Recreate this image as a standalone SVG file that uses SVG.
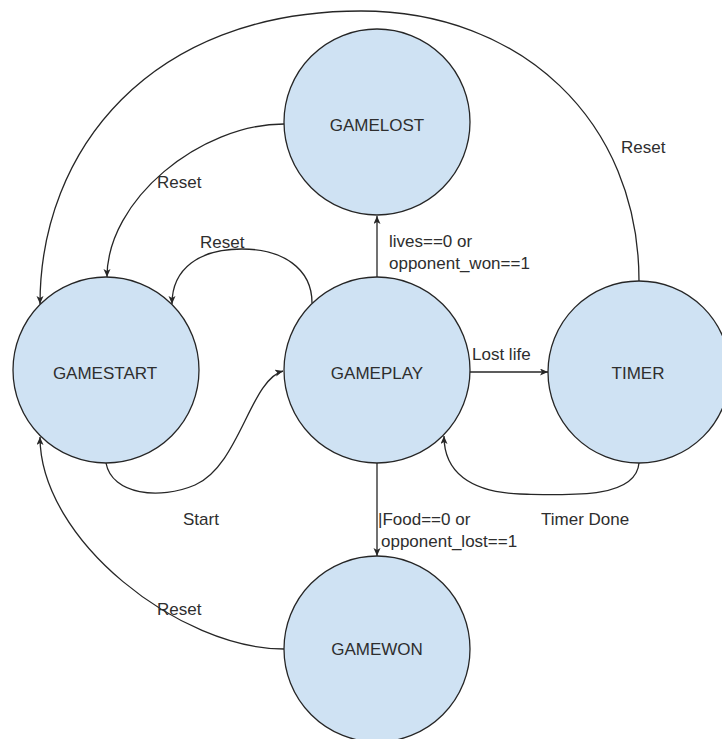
<svg xmlns="http://www.w3.org/2000/svg" width="722" height="739" viewBox="0 0 722 739">
<style>
.node{fill:#cfe2f3;stroke:#262626;stroke-width:1.3}
.nl{font-family:"Liberation Sans",Arial,sans-serif;font-size:17px;fill:#2e2e2e;text-anchor:middle}
.el{font-family:"Liberation Sans",Arial,sans-serif;font-size:17px;fill:#2e2e2e}
.edge{fill:none;stroke:#262626;stroke-width:1.3;marker-end:url(#arr)}
</style>
<defs>
<marker id="arr" markerUnits="userSpaceOnUse" markerWidth="10" markerHeight="8" refX="8" refY="3.5" orient="auto">
<path d="M0,0 L8,3.5 L0,7 L2,3.5 z" fill="#262626"/>
</marker>
</defs>
<rect width="722" height="739" fill="#ffffff"/>
<g id="connectors">
<path class="edge" d="M639,281 C639,120 520,11 361,11 C150,11 40,150 40,304"/>
<path class="edge" d="M284,124 C200,124 107,200 107,277"/>
<path class="edge" d="M312,303 C312,268 282,249 242,249 C200,249 172,268 172,304"/>
<path class="edge" d="M106,463 C112,495 160,500 195,485 C240,465 250,380 283,371"/>
<path class="edge" d="M377,277 L377,216"/>
<path class="edge" d="M470,372 L548,372"/>
<path class="edge" d="M639,463 C636,500 565,495 520,494 C470,492 444,472 444,436"/>
<path class="edge" d="M377,463 L377,556"/>
<path class="edge" d="M284,649 C180,649 40,540 40,437"/>
</g>
<g id="GAMELOST"><circle class="node" cx="377" cy="122" r="93"/><text class="nl" x="377" y="131">GAMELOST</text></g>
<g id="GAMESTART"><circle class="node" cx="106" cy="370" r="93"/><text class="nl" x="105" y="379">GAMESTART</text></g>
<g id="GAMEPLAY"><circle class="node" cx="377" cy="370" r="93"/><text class="nl" x="377" y="379">GAMEPLAY</text></g>
<g id="TIMER"><circle class="node" cx="639" cy="372" r="91"/><text class="nl" x="638" y="379">TIMER</text></g>
<g id="GAMEWON"><circle class="node" cx="377" cy="649" r="93"/><text class="nl" x="377" y="655">GAMEWON</text></g>
<g id="labels">
<text class="el" x="157" y="188">Reset</text>
<text class="el" x="200" y="248">Reset</text>
<text class="el" x="621" y="153">Reset</text>
<text class="el" x="389" y="247">lives==0 or</text>
<text class="el" x="389" y="269">opponent_won==1</text>
<text class="el" x="472" y="360">Lost life</text>
<text class="el" x="541" y="525">Timer Done</text>
<text class="el" x="378" y="525">|Food==0 or</text>
<text class="el" x="381" y="547">opponent_lost==1</text>
<text class="el" x="183" y="525">Start</text>
<text class="el" x="157" y="615">Reset</text>
</g>
</svg>
